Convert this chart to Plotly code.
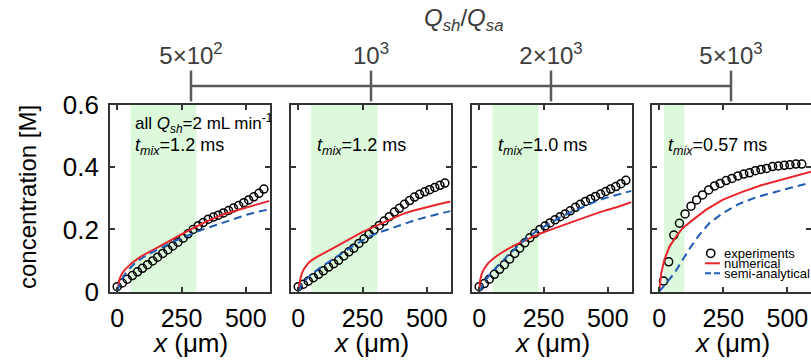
import plotly.graph_objects as go

W, H = 811, 362
FONT = "Liberation Sans, Arial, sans-serif"

# ---------------- data ----------------
x_ticks = [0, 250, 500]
x_tick_labels = ["0", "250", "500"]
y_ticks = [0, 0.2, 0.4, 0.6]
y_tick_labels = ["0", "0.2", "0.4", "0.6"]

q_ratio_labels = ["5×10<sup>2</sup>", "10<sup>3</sup>", "2×10<sup>3</sup>", "5×10<sup>3</sup>"]
t_mix_labels = ["1.2", "1.2", "1.0", "0.57"]

band_start = [52, 50, 52, 18]
band_end = [308, 308, 230, 98]

# experiments
exp_x_1 = [0, 20, 39, 59, 79, 98, 118, 138, 157, 177, 197, 216, 236, 256, 275,
           295, 315, 334, 354, 374, 393, 413, 433, 452, 472, 492, 511, 531, 551, 570]
exp_c_1 = [0.016, 0.028, 0.040, 0.052, 0.064, 0.075, 0.087, 0.099, 0.111, 0.123,
           0.135, 0.147, 0.159, 0.172, 0.186, 0.200, 0.212, 0.222, 0.233, 0.240,
           0.246, 0.253, 0.261, 0.269, 0.277, 0.286, 0.295, 0.305, 0.316, 0.330]
exp_x_2 = exp_x_1
exp_c_2 = [0.016, 0.024, 0.034, 0.045, 0.056, 0.067, 0.079, 0.090, 0.101, 0.115,
           0.128, 0.140, 0.155, 0.170, 0.185, 0.199, 0.213, 0.227, 0.241, 0.256,
           0.268, 0.281, 0.293, 0.304, 0.313, 0.321, 0.328, 0.335, 0.342, 0.349]
exp_x_3 = exp_x_1
exp_c_3 = [0.016, 0.026, 0.040, 0.056, 0.072, 0.087, 0.105, 0.123, 0.140, 0.157,
           0.173, 0.187, 0.200, 0.211, 0.221, 0.231, 0.241, 0.250, 0.260, 0.271,
           0.281, 0.290, 0.298, 0.306, 0.314, 0.322, 0.330, 0.338, 0.347, 0.358]
exp_x_4 = [17, 37, 57, 79, 101, 124, 146, 169, 193, 216, 238, 261, 284, 307, 330,
           352, 375, 397, 419, 442, 465, 488, 510, 533, 556]
exp_c_4 = [0.034, 0.096, 0.182, 0.220, 0.250, 0.275, 0.295, 0.311, 0.327, 0.340,
           0.348, 0.357, 0.364, 0.372, 0.378, 0.382, 0.389, 0.393, 0.396, 0.402,
           0.404, 0.406, 0.408, 0.410, 0.410]

# numerical
num_x_1 = [0, 5, 10, 18, 30, 45, 63, 90, 120, 157, 190, 221, 255, 286, 320, 350,
           385, 414, 450, 479, 510, 543, 570, 592]
num_c_1 = [0, 0.030, 0.043, 0.057, 0.071, 0.083, 0.096, 0.112, 0.126, 0.143, 0.158,
           0.172, 0.187, 0.200, 0.215, 0.227, 0.239, 0.249, 0.258, 0.265, 0.273,
           0.281, 0.287, 0.292]
num_x_2 = [0, 4, 8, 14, 20, 35, 50, 75, 100, 140, 175, 210, 245, 285, 320, 365,
           407, 450, 498, 545, 592]
num_c_2 = [0, 0.025, 0.040, 0.058, 0.070, 0.088, 0.100, 0.113, 0.125, 0.142, 0.158,
           0.174, 0.190, 0.205, 0.218, 0.235, 0.250, 0.261, 0.272, 0.281, 0.290]
num_x_3 = [0, 3, 10, 20, 35, 55, 81, 110, 145, 185, 229, 270, 313, 360, 404, 450,
           494, 540, 592]
num_c_3 = [0, 0.035, 0.058, 0.075, 0.092, 0.107, 0.122, 0.137, 0.152, 0.168, 0.184,
           0.197, 0.210, 0.224, 0.238, 0.250, 0.262, 0.273, 0.288]
num_x_4 = [0, 3, 8, 20, 40, 66, 91, 130, 182, 247, 324, 401, 479, 543, 592]
num_c_4 = [0, 0.030, 0.059, 0.102, 0.145, 0.177, 0.204, 0.230, 0.263, 0.295, 0.321,
           0.343, 0.361, 0.375, 0.386]

# semi-analytical
sa_x_1 = [0, 10, 25, 45, 70, 100, 130, 157, 190, 221, 255, 286, 320, 350, 385, 414,
          450, 479, 510, 543, 570, 592]
sa_c_1 = [0, 0.025, 0.050, 0.072, 0.092, 0.110, 0.124, 0.136, 0.150, 0.162, 0.174,
          0.185, 0.196, 0.205, 0.215, 0.224, 0.234, 0.242, 0.249, 0.256, 0.261, 0.265]
sa_x_2 = [0, 10, 25, 50, 90, 130, 175, 219, 250, 283, 320, 348, 380, 413, 455, 498,
          545, 592]
sa_c_2 = [0, 0.018, 0.035, 0.055, 0.080, 0.102, 0.128, 0.150, 0.165, 0.180, 0.192,
          0.200, 0.210, 0.220, 0.230, 0.240, 0.250, 0.259]
sa_x_3 = [0, 10, 29, 55, 81, 110, 145, 185, 229, 283, 313, 360, 404, 450, 494, 540, 592]
sa_c_3 = [0, 0.015, 0.042, 0.068, 0.091, 0.115, 0.143, 0.172, 0.198, 0.225, 0.238,
          0.257, 0.273, 0.289, 0.302, 0.313, 0.324]
sa_x_4 = [0, 27, 59, 91, 124, 156, 195, 247, 311, 376, 453, 517, 589]
sa_c_4 = [0, 0.027, 0.059, 0.102, 0.145, 0.182, 0.220, 0.252, 0.282, 0.303, 0.321,
          0.335, 0.350]

exp_x = [exp_x_1, exp_x_2, exp_x_3, exp_x_4]
exp_c = [exp_c_1, exp_c_2, exp_c_3, exp_c_4]
num_x = [num_x_1, num_x_2, num_x_3, num_x_4]
num_c = [num_c_1, num_c_2, num_c_3, num_c_4]
sa_x = [sa_x_1, sa_x_2, sa_x_3, sa_x_4]
sa_c = [sa_c_1, sa_c_2, sa_c_3, sa_c_4]

# ---------------- style ----------------
RED = "#e8262b"
BLUE = "#1f5cb5"
GREEN = "#dcf9dc"
FRAME = "#333333"
TOPGRAY = "#5a5a5a"

panel_left_px = [110, 291, 472, 652]
panel_w_px = 159.5
plot_top_px, plot_bot_px = 105, 291.7
y_dom = [1 - plot_bot_px / H, 1 - plot_top_px / H]

fig = go.Figure()
layout = {}
shapes = []
annotations = []

for i in range(4):
    sfx = "" if i == 0 else str(i + 1)
    xa, ya = "x" + sfx, "y" + sfx
    fig.add_trace(go.Scatter(x=exp_x[i], y=exp_c[i], xaxis=xa, yaxis=ya, mode="markers",
                             marker=dict(symbol="circle-open", size=8, color="black",
                                         line=dict(color="black", width=1.5)),
                             cliponaxis=False, name="experiments"))
    fig.add_trace(go.Scatter(x=num_x[i], y=num_c[i], xaxis=xa, yaxis=ya, mode="lines",
                             line=dict(color=RED, width=2), name="numerical"))
    fig.add_trace(go.Scatter(x=sa_x[i], y=sa_c[i], xaxis=xa, yaxis=ya, mode="lines",
                             line=dict(color=BLUE, width=2, dash="8px,5px"),
                             name="semi-analytical"))
    l = panel_left_px[i] / W
    r = min((panel_left_px[i] + panel_w_px) / W, 1.0)
    layout["xaxis" + sfx] = dict(
        domain=[l, r], range=[-28, 592], anchor=ya, tickvals=x_ticks, ticktext=x_tick_labels,
        ticks="inside", ticklen=5, tickwidth=1.5, tickcolor=FRAME, showline=True,
        linecolor=FRAME, linewidth=1.8, mirror="ticks", showgrid=False, zeroline=False,
        automargin=False,
        tickfont=dict(size=25, color="black", family=FONT), ticklabelstandoff=3)
    layout["yaxis" + sfx] = dict(
        domain=y_dom, range=[0, 0.6], anchor=xa, tickvals=y_ticks, ticktext=y_tick_labels,
        showticklabels=(i == 0), ticks="inside", ticklen=5, tickwidth=1.5, tickcolor=FRAME,
        showline=True, linecolor=FRAME, linewidth=1.8, mirror="ticks", showgrid=False,
        zeroline=False, automargin=False,
        tickfont=dict(size=26, color="black", family=FONT),
        ticklabelstandoff=4)
    shapes.append(dict(type="rect", xref=xa, yref=ya + " domain", x0=band_start[i],
                       x1=band_end[i], y0=0, y1=1, fillcolor=GREEN, line=dict(width=0),
                       layer="below"))
    annotations.append(dict(text="<i>x</i> (μm)", xref=xa + " domain", yref="paper",
                            x=0.5, y=1 - 343 / H, xanchor="center", yanchor="middle",
                            showarrow=False, font=dict(size=26, color="black", family=FONT)))

# t_mix labels
tmix_x_px = [133, 314.5, 496, 666]
for i in range(4):
    annotations.append(dict(text="<i>t</i><sub><i>mix</i></sub>=" + t_mix_labels[i] + " ms",
                            xref="paper", yref="paper", x=tmix_x_px[i] / W, y=1 - 146 / H,
                            xanchor="left", yanchor="middle", showarrow=False,
                            font=dict(size=18, color="black", family=FONT)))
annotations.append(dict(text="all <i>Q</i><sub><i>sh</i></sub>=2 mL min<sup>-1</sup>",
                        xref="paper", yref="paper", x=133 / W, y=1 - 123 / H,
                        xanchor="left", yanchor="middle", showarrow=False,
                        font=dict(size=17, color="black", family=FONT)))

# y axis title
annotations.append(dict(text="concentration [M]", xref="paper", yref="paper",
                        x=27 / W, y=1 - 197 / H, textangle=-90, xanchor="center",
                        yanchor="middle", showarrow=False,
                        font=dict(size=24, color="black", family=FONT)))

# top Q ratio axis
fig.add_trace(go.Scatter(x=q_ratio_labels, y=[0, 0, 0, 0], xaxis="x5", yaxis="y5",
                         mode="lines+markers", cliponaxis=False, hoverinfo="skip",
                         line=dict(color=TOPGRAY, width=2.5),
                         marker=dict(symbol="line-ns", size=22, color=TOPGRAY,
                                     line=dict(color=TOPGRAY, width=2.5))))
yline = 1 - 86 / H
layout["xaxis5"] = dict(domain=[191 / W, 731 / W], type="category", range=[0, 3],
                        anchor="y5", side="top", showline=False, ticks="", showgrid=False,
                        zeroline=False, automargin=False,
                        tickfont=dict(size=24, color="#3c3c3c", family=FONT),
                        ticklabelstandoff=13)
layout["yaxis5"] = dict(domain=[yline - 0.01, yline + 0.01], range=[-1, 1], anchor="x5",
                        visible=False, automargin=False)
annotations.append(dict(text="<i>Q</i><sub><i>sh</i></sub>/<i>Q</i><sub><i>sa</i></sub>",
                        xref="paper", yref="paper", x=463 / W, y=1 - 20 / H,
                        xanchor="center", yanchor="middle", showarrow=False,
                        font=dict(size=24, color="#3c3c3c", family=FONT)))

# manual legend in panel 4
def px(xp):
    return xp / W

def py(yp):
    return 1 - yp / H

leg_items = ["experiments", "numerical", "semi-analytical"]
leg_y = [253.3, 263.3, 273.3]
shapes.append(dict(type="circle", xref="paper", yref="paper", x0=px(706.6), x1=px(714.8),
                   y0=py(257.4), y1=py(249.2), line=dict(color="black", width=1.5)))
shapes.append(dict(type="line", xref="paper", yref="paper", x0=px(705), x1=px(720),
                   y0=py(leg_y[1]), y1=py(leg_y[1]), line=dict(color=RED, width=2)))
shapes.append(dict(type="line", xref="paper", yref="paper", x0=px(705), x1=px(720),
                   y0=py(leg_y[2]), y1=py(leg_y[2]),
                   line=dict(color=BLUE, width=2, dash="6px,3px")))
for name, yy in zip(leg_items, leg_y):
    annotations.append(dict(text=name, xref="paper", yref="paper", x=px(722), y=py(yy),
                            xanchor="left", yanchor="middle", showarrow=False,
                            font=dict(size=13, color="black", family=FONT)))

fig.update_layout(**layout)
fig.update_layout(width=W, height=H, margin=dict(l=0, r=0, t=0, b=0, autoexpand=False),
                  showlegend=False,
                  paper_bgcolor="white", plot_bgcolor="white", shapes=shapes,
                  annotations=annotations, font=dict(family=FONT))
fig.write_html("out.html")
